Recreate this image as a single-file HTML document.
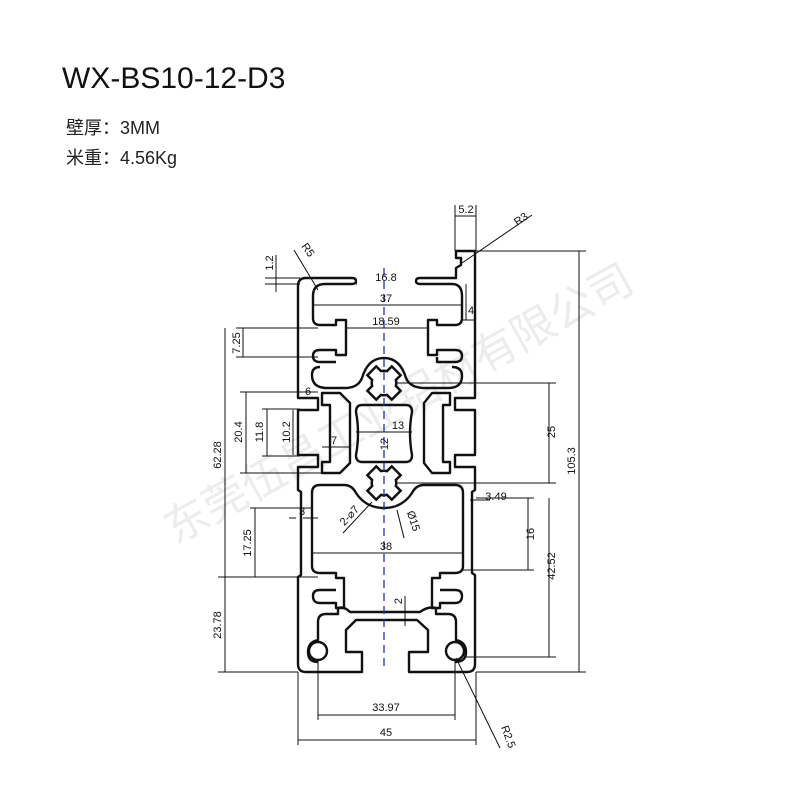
<!DOCTYPE html>
<html><head><meta charset="utf-8"><style>
html,body{margin:0;padding:0;background:#fff;}
svg{display:block}
text{font-family:"Liberation Sans Narrow","Liberation Sans",sans-serif;}
</style></head><body>
<svg width="800" height="800" viewBox="0 0 800 800" xmlns="http://www.w3.org/2000/svg">
<rect width="800" height="800" fill="#fff"/>
<text x="62" y="88" font-size="30" font-family="Liberation Sans, sans-serif" fill="#111">WX-BS10-12-D3</text>
<text x="66" y="134" font-size="18" font-family="Liberation Sans, Noto Sans CJK SC, sans-serif" fill="#222">壁厚：3MM</text>
<text x="66" y="164" font-size="18" font-family="Liberation Sans, Noto Sans CJK SC, sans-serif" fill="#222">米重：4.56Kg</text>

<!-- watermark -->
<text x="0" y="0" font-size="44" fill="#000" opacity="0.07" font-family="Noto Sans CJK SC, sans-serif" transform="translate(175,545) rotate(-29)">东莞伍昌工业铝材有限公司</text>

<g fill="none" stroke="#111" stroke-width="2.4" stroke-linejoin="round">
<!-- outer outline -->
<path d="M352,278 L306,278 Q298,278 298,286 L298,398 L318,398 L318,410 L298,410 L298,455 L318,455 L318,467 L298,467 L298,490 L301,492 L301,575 L298,577 L298,664 Q298,672 306,672 L362,672 L362,652 L346,652 L346,630 L356,620 L417,620 L428,630 L428,652 L409,652 L409,672 L467,672 Q475,672 475,664 L475,575 L472,573 L472,492 L475,490 L475,467 L455,467 L455,455 L475,455 L475,410 L455,410 L455,398 L475,398 L475,251 L456,251 L456,258 L461,258 L461,265 L456,268 L456,278 L420,278 Q416,278 416,281 Q416,284 420,284 L452,284 Q462,284 462,296 L462,318 Q462,325 455,325 L437,325 L437,320 L428,320 L428,355 L437,355 L437,350 L455,350 Q462,350 462,356 Q462,362 455,362 L437,362 L437,357"/>
<path d="M352,278 Q356,278 356,281 Q356,284 352,284 L325,284 Q313,284 313,296 L313,318 Q313,325 320,325 L336,325 L336,320 L346,320 L346,355 L336,355 L336,350 L320,350 Q313,350 313,356 Q313,362 320,362 L336,362"/>
<!-- second wavy cavity -->
<path d="M320,367 Q312,367 312,375 Q312,387 325,388 L345,388 Q358,388 362,378 Q368,358 384,358 Q400,358 406,378 Q410,388 425,388 L448,388 Q462,388 462,376 Q462,367 452,367"/>
<!-- side cavities -->
<path d="M322,393 L340,393 L350,403 L350,463 L340,473 L322,473 L322,462 L330,462 L330,405 L322,405 Z"/>
<path d="M450,393 L432,393 L424,403 L424,463 L432,473 L450,473 L450,462 L443,462 L443,405 L450,405 Z"/>
<!-- center rect -->
<path d="M362,405 L406,405 Q412,405 412,412 Q408,433 412,455 Q412,462 406,462 L362,462 Q356,462 356,455 Q360,433 356,412 Q356,405 362,405 Z"/>
<!-- big lower cavity -->
<path d="M320,485 L344,485 Q352,485 356,493 Q366,508 384,508 Q402,508 412,493 Q416,485 424,485 L455,485 Q463,485 463,493 L463,566 Q463,573 455,573 L440,573 L440,578 L432,578 L432,608 L440,608 L440,603 L455,603 Q462,603 462,596 Q462,590 455,590 L440,590"/>
<path d="M455,485 M320,485 Q312,485 312,493 L312,566 Q312,573 320,573 L336,573 L336,578 L344,578 L344,608 L336,608 L336,603 L320,603 Q313,603 313,596 Q313,590 320,590 L336,590"/>
<!-- bottom channel -->
<path d="M330,672 M318,662 Q308,662 308,652 Q308,642 318,640 L318,622 Q318,614 326,614 L338,614 L338,608 Q344,606 350,612 L420,612 Q428,606 436,608 L436,614 L448,614 Q456,614 456,622 L456,640 Q466,642 466,652 Q466,662 455,662"/>
<circle cx="318" cy="651" r="9"/>
<circle cx="455" cy="651" r="9"/>
</g>

<!-- star holes -->
<g>
 <g stroke="#111" stroke-width="5" fill="#111">
  <circle cx="384" cy="383" r="11"/><circle cx="384" cy="483" r="11"/>
  <g transform="translate(384,383) rotate(45)"><rect x="-16" y="-5" width="32" height="10"/><rect x="-5" y="-16" width="10" height="32"/></g>
  <g transform="translate(384,483) rotate(45)"><rect x="-16" y="-5" width="32" height="10"/><rect x="-5" y="-16" width="10" height="32"/></g>
 </g>
 <g fill="#fff">
  <circle cx="384" cy="383" r="11"/><circle cx="384" cy="483" r="11"/>
  <g transform="translate(384,383) rotate(45)"><rect x="-16" y="-5" width="32" height="10"/><rect x="-5" y="-16" width="10" height="32"/></g>
  <g transform="translate(384,483) rotate(45)"><rect x="-16" y="-5" width="32" height="10"/><rect x="-5" y="-16" width="10" height="32"/></g>
 </g>
</g>

<!-- center line -->
<line x1="384" y1="268" x2="384" y2="666" stroke="#2233aa" stroke-width="1.3" stroke-dasharray="8,5"/>

<!-- dimension lines -->
<g stroke="#111" stroke-width="1" fill="none">
<line x1="455" y1="205" x2="455" y2="251"/><line x1="476" y1="205" x2="476" y2="251"/><line x1="455" y1="216" x2="476" y2="216"/>
<line x1="462" y1="263" x2="532" y2="215"/>
<line x1="318" y1="290" x2="294" y2="250"/>
<line x1="276" y1="255" x2="276" y2="292"/><line x1="265" y1="278" x2="300" y2="278"/><line x1="265" y1="284" x2="300" y2="284"/>
<line x1="476" y1="251" x2="586" y2="251"/><line x1="476" y1="672" x2="586" y2="672"/><line x1="579" y1="251" x2="579" y2="672"/>
<line x1="395" y1="383" x2="556" y2="383"/><line x1="395" y1="483" x2="556" y2="483"/><line x1="549" y1="383" x2="549" y2="483"/>
<line x1="476" y1="498" x2="534" y2="498"/><line x1="528" y1="498" x2="528" y2="570"/><line x1="463" y1="570" x2="534" y2="570"/>
<line x1="549" y1="498" x2="549" y2="657"/><line x1="465" y1="657" x2="556" y2="657"/><line x1="470" y1="500" x2="490" y2="500"/>
<line x1="466" y1="284" x2="466" y2="320"/><line x1="462" y1="320" x2="476" y2="320"/>
<line x1="356" y1="284" x2="416" y2="284" stroke-dasharray="1,60"/>
<line x1="313" y1="305" x2="462" y2="305"/>
<line x1="346" y1="328" x2="428" y2="328"/>
<line x1="236" y1="328" x2="318" y2="328"/><line x1="236" y1="357" x2="318" y2="357"/><line x1="243" y1="328" x2="243" y2="357"/>
<line x1="225" y1="328" x2="225" y2="577"/>
<line x1="240" y1="392" x2="318" y2="392"/><line x1="240" y1="473" x2="322" y2="473"/><line x1="246" y1="392" x2="246" y2="473"/>
<line x1="262" y1="409" x2="300" y2="409"/><line x1="262" y1="456" x2="300" y2="456"/><line x1="267" y1="409" x2="267" y2="456"/>
<line x1="293" y1="410" x2="293" y2="455"/>
<line x1="298" y1="398" x2="318" y2="398"/>
<line x1="322" y1="447" x2="350" y2="447"/>
<line x1="356" y1="432" x2="412" y2="432"/>
<line x1="250" y1="508" x2="312" y2="508"/><line x1="255" y1="508" x2="255" y2="577"/>
<line x1="218" y1="577" x2="318" y2="577"/><line x1="225" y1="577" x2="225" y2="672"/><line x1="218" y1="672" x2="298" y2="672"/>
<line x1="289" y1="518" x2="296" y2="518"/><line x1="303" y1="518" x2="318" y2="518"/>
<line x1="343" y1="533" x2="372" y2="502"/>
<line x1="397" y1="510" x2="404" y2="538"/>
<line x1="312" y1="553" x2="463" y2="553"/>
<line x1="405" y1="596" x2="405" y2="626"/>
<line x1="318" y1="660" x2="318" y2="720"/><line x1="455" y1="660" x2="455" y2="720"/><line x1="318" y1="715" x2="455" y2="715"/>
<line x1="298" y1="672" x2="298" y2="745"/><line x1="476" y1="672" x2="476" y2="745"/><line x1="298" y1="740" x2="476" y2="740"/>
<line x1="456" y1="658" x2="500" y2="748"/>
</g>

<g font-size="11" fill="#111" text-anchor="middle">
<text x="466" y="213">5.2</text>
<text transform="translate(523,222) rotate(-35)">R3</text>
<text transform="translate(305,252) rotate(55)">R5</text>
<text transform="translate(273,263) rotate(-90)">1.2</text>
<text transform="translate(575,461) rotate(-90)">105.3</text>
<text transform="translate(555,432) rotate(-90)">25</text>
<text transform="translate(555,566) rotate(-90)">42.52</text>
<text transform="translate(534,534) rotate(-90)">16</text>
<text x="496" y="500">3.49</text>
<text x="471" y="314">4</text>
<text x="386" y="281">16.8</text>
<text x="386" y="302">37</text>
<text x="386" y="325">18.59</text>
<text transform="translate(240,343) rotate(-90)">7.25</text>
<text transform="translate(221,455) rotate(-90)">62.28</text>
<text transform="translate(242,432) rotate(-90)">20.4</text>
<text transform="translate(263,432) rotate(-90)">11.8</text>
<text transform="translate(290,432) rotate(-90)">10.2</text>
<text x="308" y="395">6</text>
<text x="334" y="444">7</text>
<text x="398" y="429">13</text>
<text transform="translate(388,444) rotate(-90)">12</text>
<text transform="translate(251,543) rotate(-90)">17.25</text>
<text x="302" y="515">3</text>
<text transform="translate(352,518) rotate(-47)">2-⌀7</text>
<text transform="translate(410,522) rotate(72)">Ø15</text>
<text x="386" y="550">38</text>
<text transform="translate(221,625) rotate(-90)">23.78</text>
<text transform="translate(402,601) rotate(-90)">2</text>
<text x="386" y="711">33.97</text>
<text x="386" y="736">45</text>
<text transform="translate(505,738) rotate(70)">R2.5</text>
</g>
</svg>
</body></html>
